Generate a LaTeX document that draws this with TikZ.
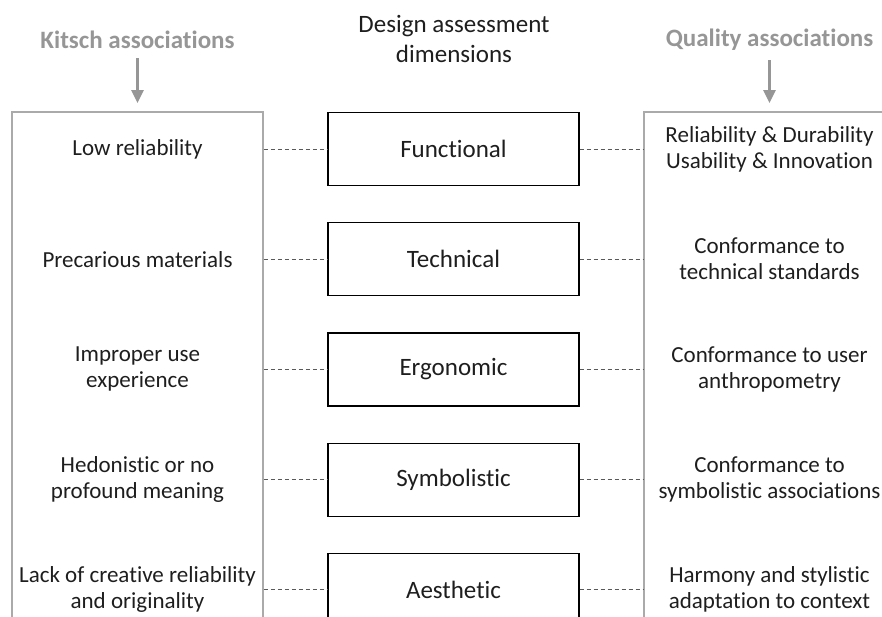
\documentclass[tikz,border=0pt]{standalone}
\usepackage{fontspec}
\setmainfont[Ligatures={TeX,NoCommon}]{Carlito}
\usepackage{tikz}
\usetikzlibrary{arrows.meta,positioning}

\definecolor{framegray}{RGB}{170,170,170}
\definecolor{headgray}{RGB}{150,150,150}
\definecolor{inkgray}{RGB}{30,30,30}

\begin{document}
\begin{tikzpicture}[
  x=1pt, y=-1pt,
  every node/.style={align=center, text=inkgray},
  column/.style={draw=framegray, line width=1.8pt, minimum width=251pt, minimum height=590pt},
  dimbox/.style={draw=black, line width=1.2pt, minimum width=251pt, minimum height=73pt,
                 font=\fontsize{25}{28}\selectfont},
  item/.style={font=\fontsize{23}{26}\selectfont},
  header/.style={font=\bfseries\fontsize{25}{28}\selectfont, text=headgray},
  link/.style={draw=black!65, line width=0.8pt, dash pattern=on 4pt off 3pt},
  down/.style={draw=headgray, line width=2.4pt, -{Triangle[width=12pt,length=13pt]},
               shorten <=6pt, shorten >=8pt},
  node distance=36pt
]
\useasboundingbox (0,0) rectangle (882,617);
\clip (0,0) rectangle (882,617);

% Columns
\node[column] (kitsch)  at (137.5,407) {};
\node[column] (quality) at (769.5,407) {};

% Headers
\node[header] (kitschhead)  at (137.5,40) {Kitsch associations};
\node[header] (qualityhead) at (769.5,40) {Quality associations};
\node[font=\fontsize{25}{30}\selectfont] (dimhead) at (454,39) {Design assessment\\dimensions};

\draw[down] (kitschhead.south) -- (kitschhead.south |- kitsch.north);
\draw[down] (qualityhead.south) -- (qualityhead.south |- quality.north);

% Dimensions
\node[dimbox] (func) at (453.5,149) {Functional};
\node[dimbox, below=of func] (tech) {Technical};
\node[dimbox, below=of tech] (ergo) {Ergonomic};
\node[dimbox, below=of ergo] (symb) {Symbolistic};
\node[dimbox, below=of symb] (aest) {Aesthetic};

% Kitsch side
\node[item] (k1) at (func -| kitsch) {Low reliability};
\node[item] (k2) at (tech -| kitsch) {Precarious materials};
\node[item] (k3) at (ergo -| kitsch) {Improper use\\experience};
\node[item] (k4) at (symb -| kitsch) {Hedonistic or no\\profound meaning};
\node[item] (k5) at (aest -| kitsch) {Lack of creative reliability\\and originality};

% Quality side
\node[item] (q1) at (func -| quality) {Reliability \& Durability\\Usability \& Innovation};
\node[item] (q2) at (tech -| quality) {Conformance to\\technical standards};
\node[item] (q3) at (ergo -| quality) {Conformance to user\\anthropometry};
\node[item] (q4) at (symb -| quality) {Conformance to\\symbolistic associations};
\node[item] (q5) at (aest -| quality) {Harmony and stylistic\\adaptation to context};

% Links
\foreach \d in {func,tech,ergo,symb,aest} {
  \draw[link] (\d.west -| kitsch.east) -- (\d.west);
  \draw[link] (\d.east) -- (\d.east -| quality.west);
}

\end{tikzpicture}
\end{document}
